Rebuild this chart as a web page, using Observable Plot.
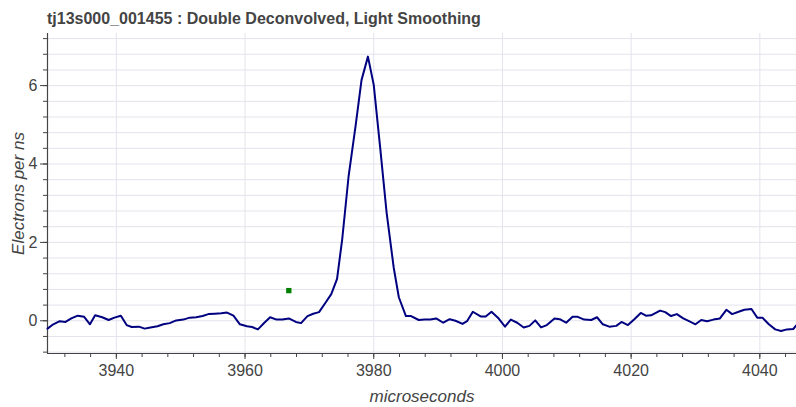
<!DOCTYPE html>
<html>
<head>
<meta charset="utf-8">
<script src="https://cdn.jsdelivr.net/npm/d3@7"></script>
<script src="https://cdn.jsdelivr.net/npm/@observablehq/plot@0.6"></script>
<style>
  html, body { margin: 0; padding: 0; background: #fff; }
  #wrap { position: relative; width: 796px; height: 407px; overflow: hidden; }
  #title { position: absolute; left: 47px; top: 9px; font: bold 16px "Liberation Sans", Arial, sans-serif; color: #444; white-space: nowrap; line-height: 20px; }
  #chart { position: absolute; left: 0; top: 0; }
</style>
</head>
<body>
<div id="wrap">
  <div id="chart"></div>
  <div id="title">tj13s000_001455 : Double Deconvolved, Light Smoothing</div>
</div>
<script>
const titleText = "tj13s000_001455 : Double Deconvolved, Light Smoothing";
const xLabel = "microseconds";
const yLabel = "Electrons per ns";

const times = [
  3929.3, 3930.2, 3931.2, 3932.1, 3933.0, 3934.0, 3935.0, 3935.9, 3936.7, 3937.8,
  3938.8, 3939.7, 3940.7, 3941.6, 3942.4, 3943.5, 3944.4, 3945.3, 3946.4, 3947.3,
  3948.3, 3949.3, 3950.4, 3951.4, 3952.4, 3953.4, 3954.3, 3955.3, 3956.3, 3957.2,
  3958.2, 3959.2, 3960.3, 3961.1, 3962.0, 3963.0, 3963.9, 3964.9, 3965.8, 3966.8,
  3967.9, 3968.7, 3969.7, 3970.6, 3971.5, 3972.5, 3973.4, 3974.3, 3975.1, 3976.1,
  3977.2, 3978.1, 3979.1, 3980.0, 3981.0, 3982.0, 3983.1, 3983.9, 3985.0, 3985.8,
  3987.0, 3987.9, 3988.8, 3989.7, 3990.8, 3991.8, 3992.7, 3993.8, 3994.5, 3995.4,
  3996.6, 3997.4, 3998.3, 3999.3, 4000.4, 4001.3, 4002.3, 4003.3, 4004.2, 4005.1,
  4006.0, 4006.9, 4008.1, 4008.9, 4009.9, 4010.9, 4011.7, 4012.7, 4013.8, 4014.7,
  4015.6, 4016.6, 4017.7, 4018.5, 4019.5, 4020.5, 4021.5, 4022.3, 4023.1, 4024.5,
  4025.3, 4026.2, 4027.1, 4028.1, 4029.0, 4030.0, 4030.9, 4031.8, 4032.8, 4033.8,
  4034.8, 4035.7, 4036.7, 4037.6, 4038.7, 4039.6, 4040.4, 4041.4, 4042.4, 4043.3,
  4044.2, 4045.2, 4045.7
];
const values = [
  -0.20, -0.09, -0.01, -0.03, 0.06, 0.13, 0.10, -0.09, 0.14, 0.09,
  0.02, 0.08, 0.13, -0.11, -0.16, -0.15, -0.20, -0.17, -0.14, -0.09,
  -0.06, 0.01, 0.03, 0.08, 0.09, 0.12, 0.17, 0.18, 0.19, 0.21,
  0.13, -0.09, -0.14, -0.16, -0.22, -0.05, 0.09, 0.03, 0.03, 0.06,
  -0.03, -0.06, 0.12, 0.18, 0.22, 0.46, 0.68, 1.07, 2.08, 3.70,
  5.00, 6.14, 6.74, 6.02, 4.42, 2.76, 1.36, 0.60, 0.12, 0.12,
  0.02, 0.03, 0.03, 0.06, -0.05, 0.04, 0.00, -0.08, -0.01, 0.23,
  0.11, 0.11, 0.23, 0.08, -0.15, 0.03, -0.05, -0.17, -0.13, 0.01,
  -0.17, -0.11, 0.06, 0.04, -0.05, 0.10, 0.10, 0.03, 0.02, 0.09,
  -0.09, -0.15, -0.13, -0.03, -0.11, 0.04, 0.20, 0.13, 0.14, 0.26,
  0.22, 0.12, 0.17, 0.06, -0.01, -0.09, 0.02, -0.01, 0.03, 0.06,
  0.28, 0.17, 0.23, 0.28, 0.30, 0.08, 0.08, -0.09, -0.22, -0.26,
  -0.22, -0.21, -0.11
];
const markerTimes = [3966.8];
const markerValues = [0.77];

const xDomain = [3929.3, 4045.7];
const yDomain = [-0.835, 7.33];
const xMajorTicks = [3940, 3960, 3980, 4000, 4020, 4040];
const xMinorTicks = [3932, 3936, 3940, 3944, 3948, 3952, 3956, 3960, 3964, 3968, 3972, 3976, 3980, 3984, 3988, 3992, 3996, 4000, 4004, 4008, 4012, 4016, 4020, 4024, 4028, 4032, 4036, 4040, 4044];
const yMajorTicks = [0, 2, 4, 6];
const yMinorTicks = [-0.8, -0.4, 0, 0.4, 0.8, 1.2, 1.6, 2, 2.4, 2.8, 3.2, 3.6, 4, 4.4, 4.8, 5.2, 5.6, 6, 6.4, 6.8, 7.2];

const series = times.map((t, i) => ({t, v: values[i]}));
const markers = markerTimes.map((t, i) => ({t, v: markerValues[i]}));

const textColor = "#444";
const gridColor = "#e3e3ed";
const axisColor = "#444";

const chart = Plot.plot({
  width: 796,
  height: 407,
  marginTop: 33,
  marginLeft: 47,
  marginRight: 0,
  marginBottom: 54,
  style: { fontFamily: "'Liberation Sans', Arial, sans-serif", fontSize: "16px", color: textColor, background: "white" },
  x: { domain: xDomain },
  y: { domain: yDomain },
  marks: [
    Plot.gridY(yMinorTicks, { stroke: gridColor, strokeOpacity: 1 }),
    Plot.gridX(xMajorTicks, { stroke: gridColor, strokeOpacity: 1 }),
    Plot.ruleX([xDomain[0]], { stroke: axisColor, strokeWidth: 1.2 }),
    Plot.ruleY([yDomain[0]], { stroke: axisColor, strokeWidth: 1.2 }),
    Plot.axisY(yMajorTicks, { tickSize: 7, tickPadding: 3, fontSize: 16, label: null, stroke: axisColor, tickFormat: d => String(d) }),
    Plot.axisY(yMinorTicks, { tickSize: 4, tickFormat: () => "", label: null, stroke: axisColor }),
    Plot.axisX(xMajorTicks, { tickSize: 6, tickPadding: 5, fontSize: 16, label: null, stroke: axisColor, tickFormat: d => String(d) }),
    Plot.axisX(xMinorTicks, { tickSize: 4, tickFormat: () => "", label: null, stroke: axisColor }),
    Plot.text([xLabel], { frameAnchor: "bottom", dy: 43, fontStyle: "italic", fontSize: 17, fill: textColor, lineAnchor: "middle", textAnchor: "middle" }),
    Plot.text([yLabel], { frameAnchor: "left", dx: -29, rotate: -90, fontStyle: "italic", fontSize: 17, fill: textColor, lineAnchor: "middle", textAnchor: "middle" }),
    Plot.line(series, { x: "t", y: "v", stroke: "navy", strokeWidth: 2 }),
    Plot.dot(markers, { x: "t", y: "v", symbol: "square", r: 3, fill: "green", stroke: null })
  ]
});
document.getElementById("chart").appendChild(chart);
document.getElementById("title").textContent = titleText;
</script>
</body>
</html>
